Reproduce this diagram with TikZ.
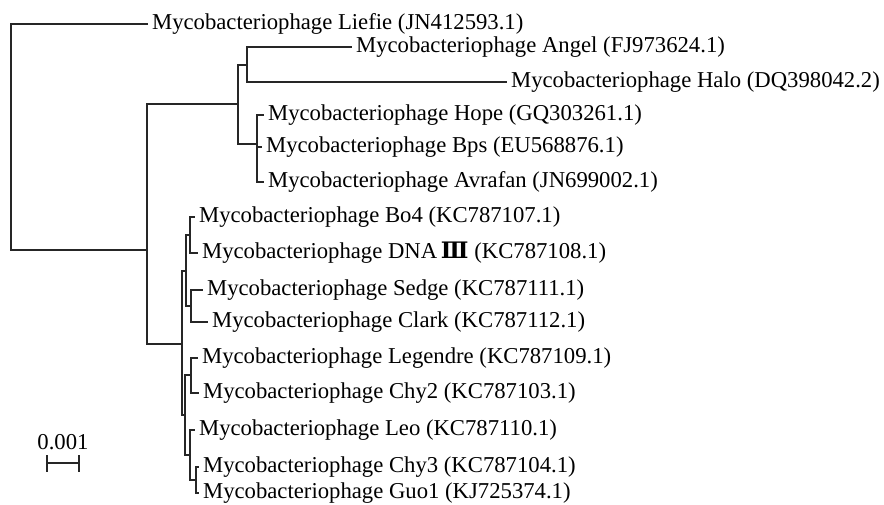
\documentclass[tikz,border=0pt]{standalone}
\usepackage{fontspec}
\setmainfont{Liberation Serif}
\newfontfamily\numfont{DejaVu Serif}
\usetikzlibrary{positioning}

\begin{document}
\begin{tikzpicture}[x=0.5pt,y=-0.5pt,line width=0.6pt,draw=black!85]
    \tikzstyle{leaf}=[anchor=west,inner sep=1.75pt,font=\fontsize{11.35}{13}\selectfont]
    \tikzstyle{annot}=[inner sep=0pt,font=\fontsize{11.35}{13}\selectfont]

    \useasboundingbox (0,0) rectangle (884,504);

    % Draw the leaf nodes
    \foreach \name / \x / \y / \word in {liefie/148/24/Liefie (JN412593.1),
        angel/352/47/Angel (FJ973624.1),halo/507/82/Halo (DQ398042.2),
        hope/264/115/Hope (GQ303261.1),bps/262/147/Bps (EU568876.1),
        avrafan/264/182/Avrafan (JN699002.1),
        bo4/195/217/Bo4 (KC787107.1),dna/198/253/DNA\,{\numfont\bfseries Ⅲ} (KC787108.1),
        sedge/203/290/Sedge (KC787111.1),clark/208/322/Clark (KC787112.1),
        legendre/198/358/Legendre (KC787109.1),chy2/199/393/Chy2 (KC787103.1),
        leo/195/430/Leo (KC787110.1),chy3/199/467/Chy3 (KC787104.1),
        guo1/199/493/Guo1 (KJ725374.1)}
        \node[leaf] (L-\name) at (\x,\y) {Mycobacteriophage \word};

    % Draw the inner nodes of the tree
    \coordinate (N-root) at (11,250);
    \coordinate (N-A) at (147,250);
    \coordinate (N-U) at (238,104);
    \coordinate (N-AH) at (247,65);
    \coordinate (N-HBA) at (257,144);
    \coordinate (N-D) at (182,344);
    \coordinate (N-BS) at (186,271);
    \coordinate (N-BD) at (190,235);
    \coordinate (N-SC) at (191,306);
    \coordinate (N-LG) at (185,415);
    \coordinate (N-LC) at (191,375);
    \coordinate (N-LCG) at (190,455);
    \coordinate (N-CG) at (196,480);

    % Connect the root
    \draw (L-liefie.west) -| (N-root) -- (N-A);

    % Connect every inner node with its inner children
    \foreach \parent / \child in {A/U,A/D,U/AH,U/HBA,D/BS,D/LG,BS/BD,BS/SC,
        LG/LC,LG/LCG,LCG/CG}
        \draw (N-\parent) |- (N-\child);

    % Connect every inner node with its leaves
    \foreach \parent / \child in {AH/angel,AH/halo,HBA/hope,HBA/bps,HBA/avrafan,
        BD/bo4,BD/dna,SC/sedge,SC/clark,LC/legendre,LC/chy2,LCG/leo,
        CG/chy3,CG/guo1}
        \draw (N-\parent) |- (L-\child.west);

    % Scale bar
    \coordinate (S-l) at (47,463);
    \coordinate (S-r) at (79,463);
    \coordinate (S-m) at (63,463);
    \draw (S-l) -- (S-r);
    \draw ([yshift=4pt]S-l) -- ([yshift=-4.5pt]S-l);
    \draw ([yshift=4pt]S-r) -- ([yshift=-4.5pt]S-r);
    \node[annot,above=6.5pt of S-m] (S-t) {0.001};

\end{tikzpicture}
\end{document}
